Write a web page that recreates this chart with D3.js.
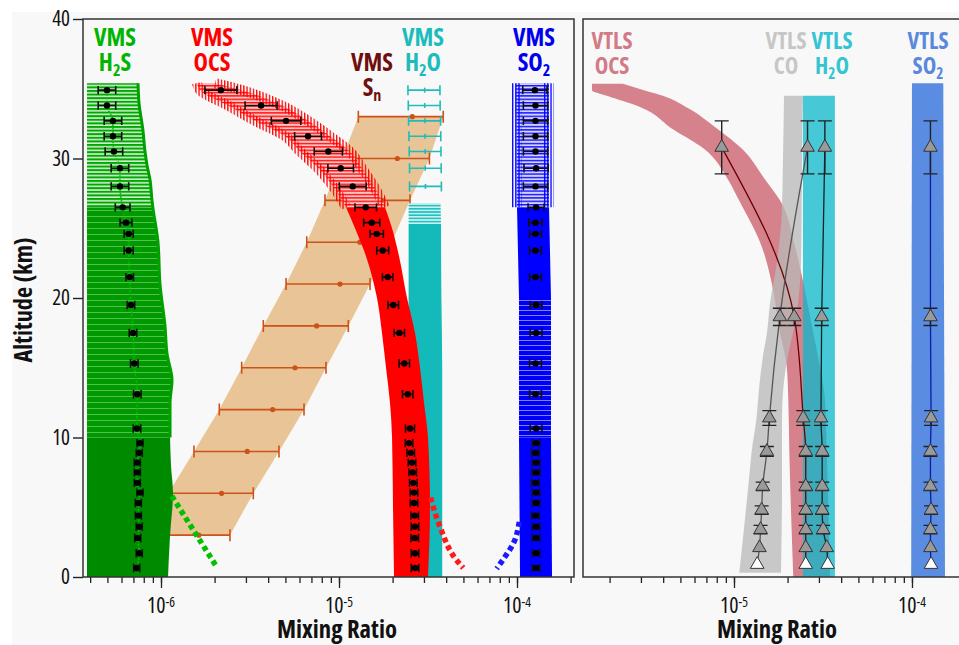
<!DOCTYPE html>
<html>
<head>
<meta charset="utf-8">
<script src="https://cdn.jsdelivr.net/npm/d3@7"></script>
<style>
  body { margin: 0; background: #fff; }
  svg { display: block; }
</style>
</head>
<body>
<svg id="chart" width="959" height="645"></svg>
<script>
// ---------- VMS profiles (left panel) ----------
const vmsAlt = [34.9, 33.8, 32.7, 31.6, 30.5, 29.3, 28.0, 26.5, 25.4, 24.6, 23.4, 21.5, 19.5, 17.5, 15.3, 13.1, 10.65,
                9.6, 8.9, 8.2, 7.5, 6.75, 6.05, 5.3, 4.4, 3.6, 2.8, 1.7, 0.65];
const h2sVms = [4.97e-7, 4.97e-7, 5.37e-7, 5.37e-7, 5.44e-7, 5.88e-7, 5.88e-7, 6.09e-7, 6.36e-7, 6.58e-7, 6.58e-7, 6.67e-7, 6.78e-7, 6.96e-7, 7.08e-7, 7.36e-7, 7.33e-7,
                7.62e-7, 7.55e-7, 7.36e-7, 7.36e-7, 7.36e-7, 7.62e-7, 7.46e-7, 7.46e-7, 7.55e-7, 7.40e-7, 7.55e-7, 7.30e-7];
const h2sErr = [0.12, 0.12, 0.12, 0.12, 0.12, 0.12, 0.12, 0.10, 0.08, 0.06, 0.06, 0.05, 0.05, 0.05, 0.05, 0.05, 0.05,
                0.04, 0.04, 0.04, 0.04, 0.04, 0.04, 0.04, 0.04, 0.04, 0.04, 0.04, 0.04];
const ocsVms = [2.17e-6, 3.65e-6, 5.04e-6, 6.70e-6, 8.71e-6, 1.022e-5, 1.194e-5, 1.413e-5, 1.527e-5, 1.629e-5, 1.760e-5, 1.877e-5, 2.018e-5, 2.182e-5, 2.328e-5, 2.432e-5, 2.506e-5,
                2.474e-5, 2.528e-5, 2.571e-5, 2.594e-5, 2.615e-5, 2.638e-5, 2.638e-5, 2.663e-5, 2.673e-5, 2.663e-5, 2.673e-5, 2.673e-5];
const ocsErr = [0.23, 0.23, 0.21, 0.19, 0.20, 0.18, 0.19, 0.15, 0.11, 0.09, 0.08, 0.07, 0.07, 0.07, 0.07, 0.07, 0.06,
                0.05, 0.05, 0.05, 0.05, 0.05, 0.05, 0.05, 0.05, 0.05, 0.05, 0.05, 0.05];
const so2Vms = [1.26e-4, 1.27e-4, 1.27e-4, 1.27e-4, 1.27e-4, 1.28e-4, 1.27e-4, 1.28e-4, 1.27e-4, 1.27e-4, 1.27e-4, 1.27e-4, 1.28e-4, 1.28e-4, 1.27e-4, 1.27e-4, 1.28e-4,
                1.28e-4, 1.27e-4, 1.28e-4, 1.28e-4, 1.27e-4, 1.28e-4, 1.28e-4, 1.27e-4, 1.28e-4, 1.28e-4, 1.28e-4, 1.28e-4];
const so2Err = [0.17, 0.17, 0.17, 0.17, 0.17, 0.17, 0.17, 0.11, 0.09, 0.08, 0.08, 0.08, 0.08, 0.08, 0.08, 0.08, 0.08,
                0.05, 0.05, 0.05, 0.05, 0.05, 0.05, 0.05, 0.05, 0.05, 0.05, 0.05, 0.05];

// VMS H2O, upper levels only (first 7 VMS altitudes)
const h2oVmsLo  = [2.44e-5, 2.45e-5, 2.46e-5, 2.47e-5, 2.48e-5, 2.49e-5, 2.49e-5];
const h2oVmsHi  = [3.69e-5, 3.70e-5, 3.72e-5, 3.73e-5, 3.74e-5, 3.75e-5, 3.76e-5];
const h2oVmsMid = [3.03e-5, 3.03e-5, 3.04e-5, 3.04e-5, 3.05e-5, 3.05e-5, 3.06e-5];

// VMS Sn
const snAlt = [3, 6, 9, 12, 15, 18, 21, 24, 27, 30, 33];
const snVal = [1.63e-6, 2.19e-6, 3.05e-6, 4.24e-6, 5.66e-6, 7.49e-6, 1.013e-5, 1.31e-5, 1.744e-5, 2.126e-5, 2.58e-5];
const snLo  = [8.13e-7, 1.10e-6, 1.532e-6, 2.126e-6, 2.84e-6, 3.756e-6, 5.04e-6, 6.59e-6, 8.34e-6, 1.04e-5, 1.284e-5];
const snHi  = [2.44e-6, 3.30e-6, 4.60e-6, 6.36e-6, 8.45e-6, 1.128e-5, 1.494e-5, 1.978e-5, 2.506e-5, 3.22e-5, 3.85e-5];

// envelopes (altitude, low, high)
const h2sEnvAlt = [35.4, 34.0, 32.0, 30.5, 29.5, 28.5, 27.0, 26.5, 24.0, 21.0, 18.0, 16.0, 14.1, 12.5, 10.0, 8.0, 6.0, 3.0, 0.0];
const h2sEnvHi  = [7.43e-7, 7.52e-7, 7.92e-7, 8.13e-7, 8.35e-7, 8.67e-7, 8.90e-7, 9.0e-7, 9.62e-7, 9.87e-7, 1.053e-6, 1.081e-6, 1.153e-6, 1.124e-6, 1.124e-6, 1.138e-6, 1.168e-6, 1.124e-6, 1.095e-6];
const h2sEnvLo  = 3.84e-7;

const ocsEnvAlt = [35.4, 34.9, 33.8, 32.7, 31.6, 30.5, 29.3, 28.0, 26.5, 25.0, 23.0, 20.0, 17.5, 15.0, 12.5, 10.0, 5.0, 0.0];
const ocsEnvLo  = [1.593e-6, 1.656e-6, 2.379e-6, 3.375e-6, 4.972e-6, 6.039e-6, 7.621e-6, 9.253e-6, 1.095e-5, 1.230e-5, 1.418e-5, 1.635e-5, 1.744e-5, 1.837e-5, 1.934e-5, 1.986e-5, 2.011e-5, 2.037e-5];
const ocsEnvHi  = [2.011e-6, 2.852e-6, 4.783e-6, 6.697e-6, 8.901e-6, 1.153e-5, 1.347e-5, 1.573e-5, 1.813e-5, 1.986e-5, 2.173e-5, 2.410e-5, 2.673e-5, 2.852e-5, 3.003e-5, 3.162e-5, 3.245e-5, 3.162e-5];

const h2oEnvAlt = [26.8, 25.3, 20, 15, 10, 5, 0];
const h2oEnvLo  = [2.46e-5, 2.46e-5, 2.46e-5, 2.46e-5, 2.46e-5, 2.46e-5, 2.46e-5];
const h2oEnvHi  = [3.72e-5, 3.74e-5, 3.76e-5, 3.80e-5, 3.80e-5, 3.80e-5, 3.80e-5];

const so2EnvAlt = [35.4, 26.5, 20, 10, 0];
const so2EnvLo  = [9.87e-5, 1.0e-4, 1.026e-4, 1.026e-4, 1.04e-4];
const so2EnvHi  = [1.513e-4, 1.513e-4, 1.552e-4, 1.552e-4, 1.573e-4];

// extrapolated (dotted) near-surface profiles
const h2sDotAlt = [5.8, 0.7];   const h2sDotVal = [1.15e-6, 2.06e-6];
const ocsDotAlt = [5.7, 3.6, 1.2, 0.65]; const ocsDotVal = [3.27e-5, 3.69e-5, 4.58e-5, 4.99e-5];
const so2DotAlt = [3.95, 2.4, 1.45, 0.6]; const so2DotVal = [1.03e-4, 9.53e-5, 8.56e-5, 7.69e-5];

// ---------- VTLS profiles (right panel) ----------
const vtlsAlt    = [30.8, 18.65, 11.4, 9.0, 6.5, 4.8, 3.4, 2.1, 0.9];
const vtlsAltErr = [1.9, 0.62, 0.53, 0.35, 0.3, 0.3, 0.3, 0, 0];
const ocsVtls = [8.53e-6, 2.18e-5, 2.45e-5, 2.53e-5, 2.53e-5, 2.53e-5, 2.53e-5, 2.53e-5, 2.53e-5];
const coVtls  = [2.59e-5, 1.81e-5, 1.58e-5, 1.53e-5, 1.45e-5, 1.43e-5, 1.41e-5, 1.39e-5, 1.35e-5];
const h2oVtls = [3.24e-5, 3.11e-5, 3.08e-5, 3.13e-5, 3.13e-5, 3.13e-5, 3.17e-5, 3.32e-5, 3.36e-5];
const so2Vtls = [1.27e-4, 1.27e-4, 1.28e-4, 1.27e-4, 1.27e-4, 1.28e-4, 1.27e-4, 1.27e-4, 1.28e-4];

const ocsBandAlt = [35.36, 34.9, 34.5, 33.7, 32.1, 30.7, 28.5, 27.0, 23.7, 21.1, 17.5, 15.1, 12.7, 9.1, 0];
const ocsBandLo  = [1.593e-6, 1.593e-6, 1.934e-6, 2.963e-6, 4.543e-6, 6.78e-6, 9.25e-6, 1.067e-5, 1.431e-5, 1.628e-5, 1.813e-5, 1.978e-5, 2.019e-5, 2.045e-5, 2.153e-5];
const ocsBandHi  = [2.378e-6, 3.12e-6, 3.99e-6, 5.375e-6, 8.13e-6, 1.109e-5, 1.494e-5, 1.813e-5, 2.201e-5, 2.451e-5, 2.79e-5, 3.042e-5, 3.245e-5, 3.318e-5, 3.462e-5];
const coBandAlt  = [34.5, 30, 26, 22.5, 19.6, 17.5, 16.0, 13.5, 11.5, 9.0, 6.5, 0.3];
const coBandLo   = [1.91e-5, 1.885e-5, 1.854e-5, 1.738e-5, 1.593e-5, 1.532e-5, 1.461e-5, 1.382e-5, 1.341e-5, 1.257e-5, 1.203e-5, 1.071e-5];
const coBandHi   = [2.44e-5, 2.41e-5, 2.40e-5, 2.379e-5, 2.288e-5, 2.145e-5, 2.019e-5, 1.892e-5, 1.861e-5, 1.861e-5, 1.861e-5, 1.837e-5];
const h2oBandAlt = [34.5, 0];  const h2oBandLo = [2.44e-5, 2.44e-5]; const h2oBandHi = [3.69e-5, 3.69e-5];
const so2BandAlt = [35.4, 0];  const so2BandLo = [1.0e-4, 9.9e-5];   const so2BandHi = [1.499e-4, 1.533e-4];

// ---------- layout ----------
const svg = d3.select("#chart");
const defs = svg.append("defs");
svg.append("rect").attr("x", 12).attr("y", 12).attr("width", 947).attr("height", 633).attr("fill", "#f8f8f8");

// pick the narrowest installed face (the original uses a condensed bold sans)
const fontCandidates = [
  ['"Liberation Sans Narrow"', "normal"], ['"Noto Sans"', "extra-condensed"], ['"Noto Sans"', "condensed"],
  ['"Open Sans"', "condensed"], ['"Roboto Condensed"', "normal"], ['"DejaVu Sans Condensed"', "normal"], ['"DejaVu Sans"', "condensed"]
];
let FONT = fontCandidates[5], best = Infinity;
fontCandidates.forEach(fc => {
  const t = svg.append("text").attr("x", -1000).attr("y", -1000).attr("font-size", 100).attr("font-weight", "bold")
    .style("font-family", fc[0] + ", sans-serif").style("font-stretch", fc[1]).text("VMS Mixing Ratio");
  const w = t.node().getComputedTextLength();
  if (w < best - 0.5) { best = w; FONT = fc; }
  t.remove();
});
const styleFont = sel => sel.style("font-family", FONT[0] + ", sans-serif").style("font-stretch", FONT[1]);
// text whose size is chosen so its width matches the original (never above maxSize)
function fitText(g, x, yy, build, targetW, maxSize) {
  const t = styleFont(g.append("text")).attr("x", x).attr("y", yy).attr("text-anchor", "middle").attr("font-size", 100);
  build(t);
  const size = Math.min(maxSize, 100 * targetW / t.node().getComputedTextLength());
  return t.attr("font-size", size.toFixed(2));
}

const y  = d3.scaleLinear().domain([0, 40]).range([577, 19]);
const xL = d3.scaleLog().domain([3.646e-7, 2.09e-4]).range([83, 574]);
const xR = d3.scaleLog().domain([1.418e-6, 1.91e-4]).range([583, 962]);

defs.append("clipPath").attr("id", "clipL").append("rect").attr("x", 83).attr("y", 19).attr("width", 491).attr("height", 558);
defs.append("clipPath").attr("id", "clipR").append("rect").attr("x", 583).attr("y", 19).attr("width", 379).attr("height", 558);

// stripe patterns used for hatched parts of bands
function stripes(id, bg, color, period, lw) {
  const p = defs.append("pattern").attr("id", id).attr("patternUnits", "userSpaceOnUse")
    .attr("width", 8).attr("height", period);
  p.append("rect").attr("width", 8).attr("height", period).attr("fill", bg);
  p.append("rect").attr("width", 8).attr("height", lw).attr("fill", color);
}
function vticks(id, color, period, lw) {
  const p = defs.append("pattern").attr("id", id).attr("patternUnits", "userSpaceOnUse")
    .attr("width", period).attr("height", 40);
  p.append("rect").attr("width", lw).attr("height", 40).attr("fill", color);
}
stripes("hGreen", "#d2efd2", "#00a800", 3.6, 2);
stripes("mGreen", "#009a00", "#4fbf4f", 6, 1);
stripes("hRed", "#ffc4c4", "#ff1010", 3.4, 1.4);
stripes("hBlue", "#d4d4ff", "#1010ff", 3.4, 1.4);
stripes("mBlue", "#0000f4", "#7f7fff", 5, 1);
stripes("hTeal", "#c8f0f0", "#20c0c0", 3.2, 1.6);
vticks("vRed", "#ff0000", 3.2, 1.3);
vticks("vBlue", "#0000ff", 3.2, 1.3);

const zipEnv = (alts, lo, hi) => alts.map((a, i) => ({ alt: a, lo: Array.isArray(lo) ? lo[i] : lo, hi: hi[i] }));
const band = x => d3.area().curve(d3.curveMonotoneY).y(d => y(d.alt)).x0(d => x(d.lo)).x1(d => x(d.hi));
const edge = (x, key) => d3.line().curve(d3.curveMonotoneY).y(d => y(d.alt)).x(d => x(d[key]));
const seg = (env, a0, a1) => env.filter(d => d.alt >= a0 && d.alt <= a1);

// ---------- left panel ----------
const gL = svg.append("g").attr("clip-path", "url(#clipL)");

// Sn band and bars
const snData = snAlt.map((a, i) => ({ alt: a, v: snVal[i], lo: snLo[i], hi: snHi[i] }));
gL.append("path").datum(snData)
  .attr("d", d3.area().y(d => y(d.alt)).x0(d => xL(d.lo)).x1(d => xL(d.hi)))
  .attr("fill", "#e8c496");
function hBars(g, x, data, color, cap, w) {
  const b = g.append("g").attr("stroke", color).attr("stroke-width", w).attr("fill", "none");
  b.selectAll(".bar").data(data).join("path")
    .attr("d", d => {
      const yy = y(d.alt), a = x(d.lo), c = x(d.hi);
      return `M${a},${yy}H${c}M${a},${yy - cap}V${yy + cap}M${c},${yy - cap}V${yy + cap}`;
    });
  return b;
}
hBars(gL, xL, snData, "#cc5218", 6, 1.6);
gL.append("g").selectAll("circle").data(snData).join("circle")
  .attr("cx", d => xL(d.v)).attr("cy", d => y(d.alt)).attr("r", 2.6).attr("fill", "#cc5218");

// H2S envelope
const h2sEnv = zipEnv(h2sEnvAlt, h2sEnvLo, h2sEnvHi);
gL.append("path").datum(seg(h2sEnv, 0, 10)).attr("d", band(xL)).attr("fill", "#008a00");
gL.append("path").datum(seg(h2sEnv, 10, 26.5)).attr("d", band(xL)).attr("fill", "url(#mGreen)");
gL.append("path").datum(seg(h2sEnv, 26.5, 40)).attr("d", band(xL)).attr("fill", "url(#hGreen)");
gL.append("path").datum(seg(h2sEnv, 10, 40)).attr("d", edge(xL, "hi")).attr("fill", "none")
  .attr("stroke", "#00a000").attr("stroke-width", 3);

// H2O (VMS) envelope and upper bars
const h2oEnv = zipEnv(h2oEnvAlt, h2oEnvLo, h2oEnvHi);
gL.append("path").datum(seg(h2oEnv, 0, 25.3)).attr("d", band(xL)).attr("fill", "#14baba");
gL.append("path").datum(seg(h2oEnv, 25.3, 40)).attr("d", band(xL)).attr("fill", "url(#hTeal)");
const h2oBars = h2oVmsLo.map((lo, i) => ({ alt: vmsAlt[i], lo: lo, hi: h2oVmsHi[i], mid: h2oVmsMid[i] }));
hBars(gL, xL, h2oBars, "#20bcbc", 5, 1.6);
gL.append("g").selectAll("line").data(h2oBars).join("line")
  .attr("x1", d => xL(d.mid)).attr("x2", d => xL(d.mid))
  .attr("y1", d => y(d.alt) - 2.5).attr("y2", d => y(d.alt) + 2.5)
  .attr("stroke", "#20bcbc").attr("stroke-width", 1.6);

// OCS (VMS) envelope
const ocsEnv = zipEnv(ocsEnvAlt, ocsEnvLo, ocsEnvHi);
gL.append("path").datum(seg(ocsEnv, 0, 26.5)).attr("d", band(xL)).attr("fill", "#ff0000");
const ocsTop = seg(ocsEnv, 26.5, 40);
gL.append("path").datum(ocsTop).attr("d", band(xL)).attr("fill", "url(#hRed)");
["lo", "hi"].forEach(k => gL.append("path").datum(ocsTop).attr("d", edge(xL, k)).attr("fill", "none")
  .attr("stroke", "url(#vRed)").attr("stroke-width", 10));

// SO2 (VMS) envelope
const so2Env = zipEnv(so2EnvAlt, so2EnvLo, so2EnvHi);
gL.append("path").datum(seg(so2Env, 0, 10)).attr("d", band(xL)).attr("fill", "#0000ff");
gL.append("path").datum(seg(so2Env, 10, 20)).attr("d", band(xL)).attr("fill", "url(#mBlue)");
gL.append("path").datum(seg(so2Env, 20, 26.5)).attr("d", band(xL)).attr("fill", "#0000ff");
const so2Top = seg(so2Env, 26.5, 40);
gL.append("path").datum(so2Top).attr("d", band(xL)).attr("fill", "url(#hBlue)");
["lo", "hi"].forEach(k => gL.append("path").datum(so2Top).attr("d", edge(xL, k)).attr("fill", "none")
  .attr("stroke", "url(#vBlue)").attr("stroke-width", 10));

// dotted extrapolations
const dotted = (alts, vals, color) => gL.append("path")
  .datum(alts.map((a, i) => ({ alt: a, v: vals[i] })))
  .attr("d", d3.line().curve(d3.curveMonotoneY).y(d => y(d.alt)).x(d => xL(d.v)))
  .attr("fill", "none").attr("stroke", color).attr("stroke-width", 5.5).attr("stroke-dasharray", "5,3.5");
dotted(h2sDotAlt, h2sDotVal, "#00c000");
dotted(ocsDotAlt, ocsDotVal, "#ff1a1a");
dotted(so2DotAlt, so2DotVal, "#1a1aff");

// VMS measured points with error bars
gL.append("path").datum(vmsAlt.map((a, i) => ({ alt: a, v: h2sVms[i] })))
  .attr("d", d3.line().curve(d3.curveMonotoneY).y(d => y(d.alt)).x(d => xL(d.v)))
  .attr("fill", "none").attr("stroke", "#00c000").attr("stroke-width", 1.5).attr("stroke-dasharray", "2,1.5");
[[h2sVms, h2sErr], [ocsVms, ocsErr], [so2Vms, so2Err]].forEach(([vals, errs]) => {
  const pts = vmsAlt.map((a, i) => ({ alt: a, v: vals[i], lo: vals[i] / (1 + errs[i]), hi: vals[i] * (1 + errs[i]) }));
  hBars(gL, xL, pts, "#111", 4.2, 1.6);
  gL.append("g").selectAll("circle").data(pts).join("circle")
    .attr("cx", d => xL(d.v)).attr("cy", d => y(d.alt)).attr("r", 3.2).attr("fill", "#000");
});

// ---------- right panel ----------
const gR = svg.append("g").attr("clip-path", "url(#clipR)");
const bandR = (alts, lo, hi, color) => gR.append("path").datum(zipEnv(alts, lo, hi))
  .attr("d", band(xR)).attr("fill", color).attr("fill-opacity", 0.75);
bandR(ocsBandAlt, ocsBandLo, ocsBandHi, "rgb(203,91,104)");
bandR(coBandAlt, coBandLo, coBandHi, "rgb(184,184,184)");
bandR(h2oBandAlt, h2oBandLo, h2oBandHi, "rgb(11,184,204)");
bandR(so2BandAlt, so2BandLo, so2BandHi, "rgb(37,104,217)");

const vtls = [
  { vals: ocsVtls, line: "#6a0000" },
  { vals: coVtls,  line: "#555555" },
  { vals: h2oVtls, line: "#0a2626" },
  { vals: so2Vtls, line: "#0a1ea8" }
];
vtls.forEach(s => {
  const pts = vtlsAlt.map((a, i) => ({ alt: a, v: s.vals[i], e: vtlsAltErr[i], last: i === vtlsAlt.length - 1 }));
  gR.append("path").datum(pts)
    .attr("d", d3.line().curve(d3.curveMonotoneY).y(d => y(d.alt)).x(d => xR(d.v)))
    .attr("fill", "none").attr("stroke", s.line).attr("stroke-width", 1.3);
  gR.append("g").attr("stroke", "#222").attr("stroke-width", 1.4).attr("fill", "none")
    .selectAll("path").data(pts.filter(d => d.e > 0)).join("path")
    .attr("d", d => {
      const cx = xR(d.v), t = y(d.alt + d.e), b = y(d.alt - d.e);
      return `M${cx},${t}V${b}M${cx - 7},${t}H${cx + 7}M${cx - 7},${b}H${cx + 7}`;
    });
  gR.append("g").selectAll("path").data(pts).join("path")
    .attr("transform", d => `translate(${xR(d.v)},${y(d.alt)})`)
    .attr("d", d3.symbol(d3.symbolTriangle, 80))
    .attr("fill", d => d.last ? "#ffffff" : "#9a9a9a").attr("stroke", "#333").attr("stroke-width", 1);
});

// ---------- axes & frames ----------
function xAxis(x, major) {
  const g = svg.append("g").attr("transform", "translate(0,577)");
  g.append("g").call(d3.axisBottom(x).tickValues(x.ticks()).tickSize(6).tickFormat(""));
  g.append("g").call(d3.axisBottom(x).tickValues(major).tickSize(11).tickFormat(""));
  g.selectAll(".domain").remove();
  g.selectAll(".tick line").attr("stroke", "#222").attr("stroke-width", 1.3);
  major.forEach(m => {
    fitText(g, x(m), 36, t => {
      t.append("tspan").text("10");
      t.append("tspan").text("-" + Math.round(-Math.log10(m))).attr("font-size", "0.62em").attr("dy", "-0.42em");
    }, 28, 22).attr("fill", "#111");
  });
}
xAxis(xL, [1e-6, 1e-5, 1e-4]);
xAxis(xR, [1e-5, 1e-4]);

const yAx = svg.append("g").attr("transform", "translate(83,0)")
  .call(d3.axisLeft(y).tickValues([0, 10, 20, 30, 40]).tickSize(10).tickPadding(3));
yAx.select(".domain").remove();
yAx.selectAll(".tick line").attr("stroke", "#222").attr("stroke-width", 1.4);
styleFont(yAx.selectAll(".tick text")).attr("font-size", 21).attr("fill", "#111");

svg.append("rect").attr("x", 83).attr("y", 19).attr("width", 491).attr("height", 558)
  .attr("fill", "none").attr("stroke", "#333").attr("stroke-width", 1.5);
svg.append("rect").attr("x", 583).attr("y", 19).attr("width", 379).attr("height", 558)
  .attr("fill", "none").attr("stroke", "#333").attr("stroke-width", 1.5);

[337, 777].forEach(cx => fitText(svg, cx, 638, t => t.attr("font-weight", "bold").text("Mixing Ratio"), 120, 27)
  .attr("fill", "#111"));
fitText(svg, 0, 0, t => t.attr("font-weight", "bold").text("Altitude (km)"), 125, 27)
  .attr("transform", "translate(32,300) rotate(-90)").attr("fill", "#111");

// ---------- species labels ----------
const labels = [
  { x: 115, y: 46, l1: "VMS",  l2: ["H", "_2", "S"], c: "#00b400" },
  { x: 212, y: 46, l1: "VMS",  l2: ["OCS"],          c: "#ff0000" },
  { x: 372, y: 71, l1: "VMS",  l2: ["S", "_n"],      c: "#6e0f0f" },
  { x: 423, y: 46, l1: "VMS",  l2: ["H", "_2", "O"], c: "#1cbcbc" },
  { x: 534, y: 46, l1: "VMS",  l2: ["SO", "_2"],     c: "#0000ee" },
  { x: 612, y: 49, l1: "VTLS", l2: ["OCS"],          c: "#d27a86" },
  { x: 786, y: 49, l1: "VTLS", l2: ["CO"],           c: "#c6c6c6" },
  { x: 832, y: 49, l1: "VTLS", l2: ["H", "_2", "O"], c: "#35c4d2" },
  { x: 928, y: 49, l1: "VTLS", l2: ["SO", "_2"],     c: "#5a88dc" }
];
labels.forEach(d => {
  const g = svg.append("g").attr("fill", d.c).attr("font-weight", "bold");
  const t1 = fitText(g, d.x, d.y, t => t.text(d.l1), d.l1 === "VMS" ? 42 : 41, 27);
  const t2 = styleFont(g.append("text")).attr("x", d.x).attr("y", d.y + 25)
    .attr("text-anchor", "middle").attr("font-size", t1.attr("font-size"));
  let shift = false;
  d.l2.forEach(p => {
    const sub = p.startsWith("_");
    const s = t2.append("tspan").text(sub ? p.slice(1) : p);
    if (sub) { s.attr("font-size", "0.66em").attr("dy", "0.3em"); shift = true; }
    else if (shift) { s.attr("dy", "-0.2em"); shift = false; }
  });
});
</script>
</body>
</html>
